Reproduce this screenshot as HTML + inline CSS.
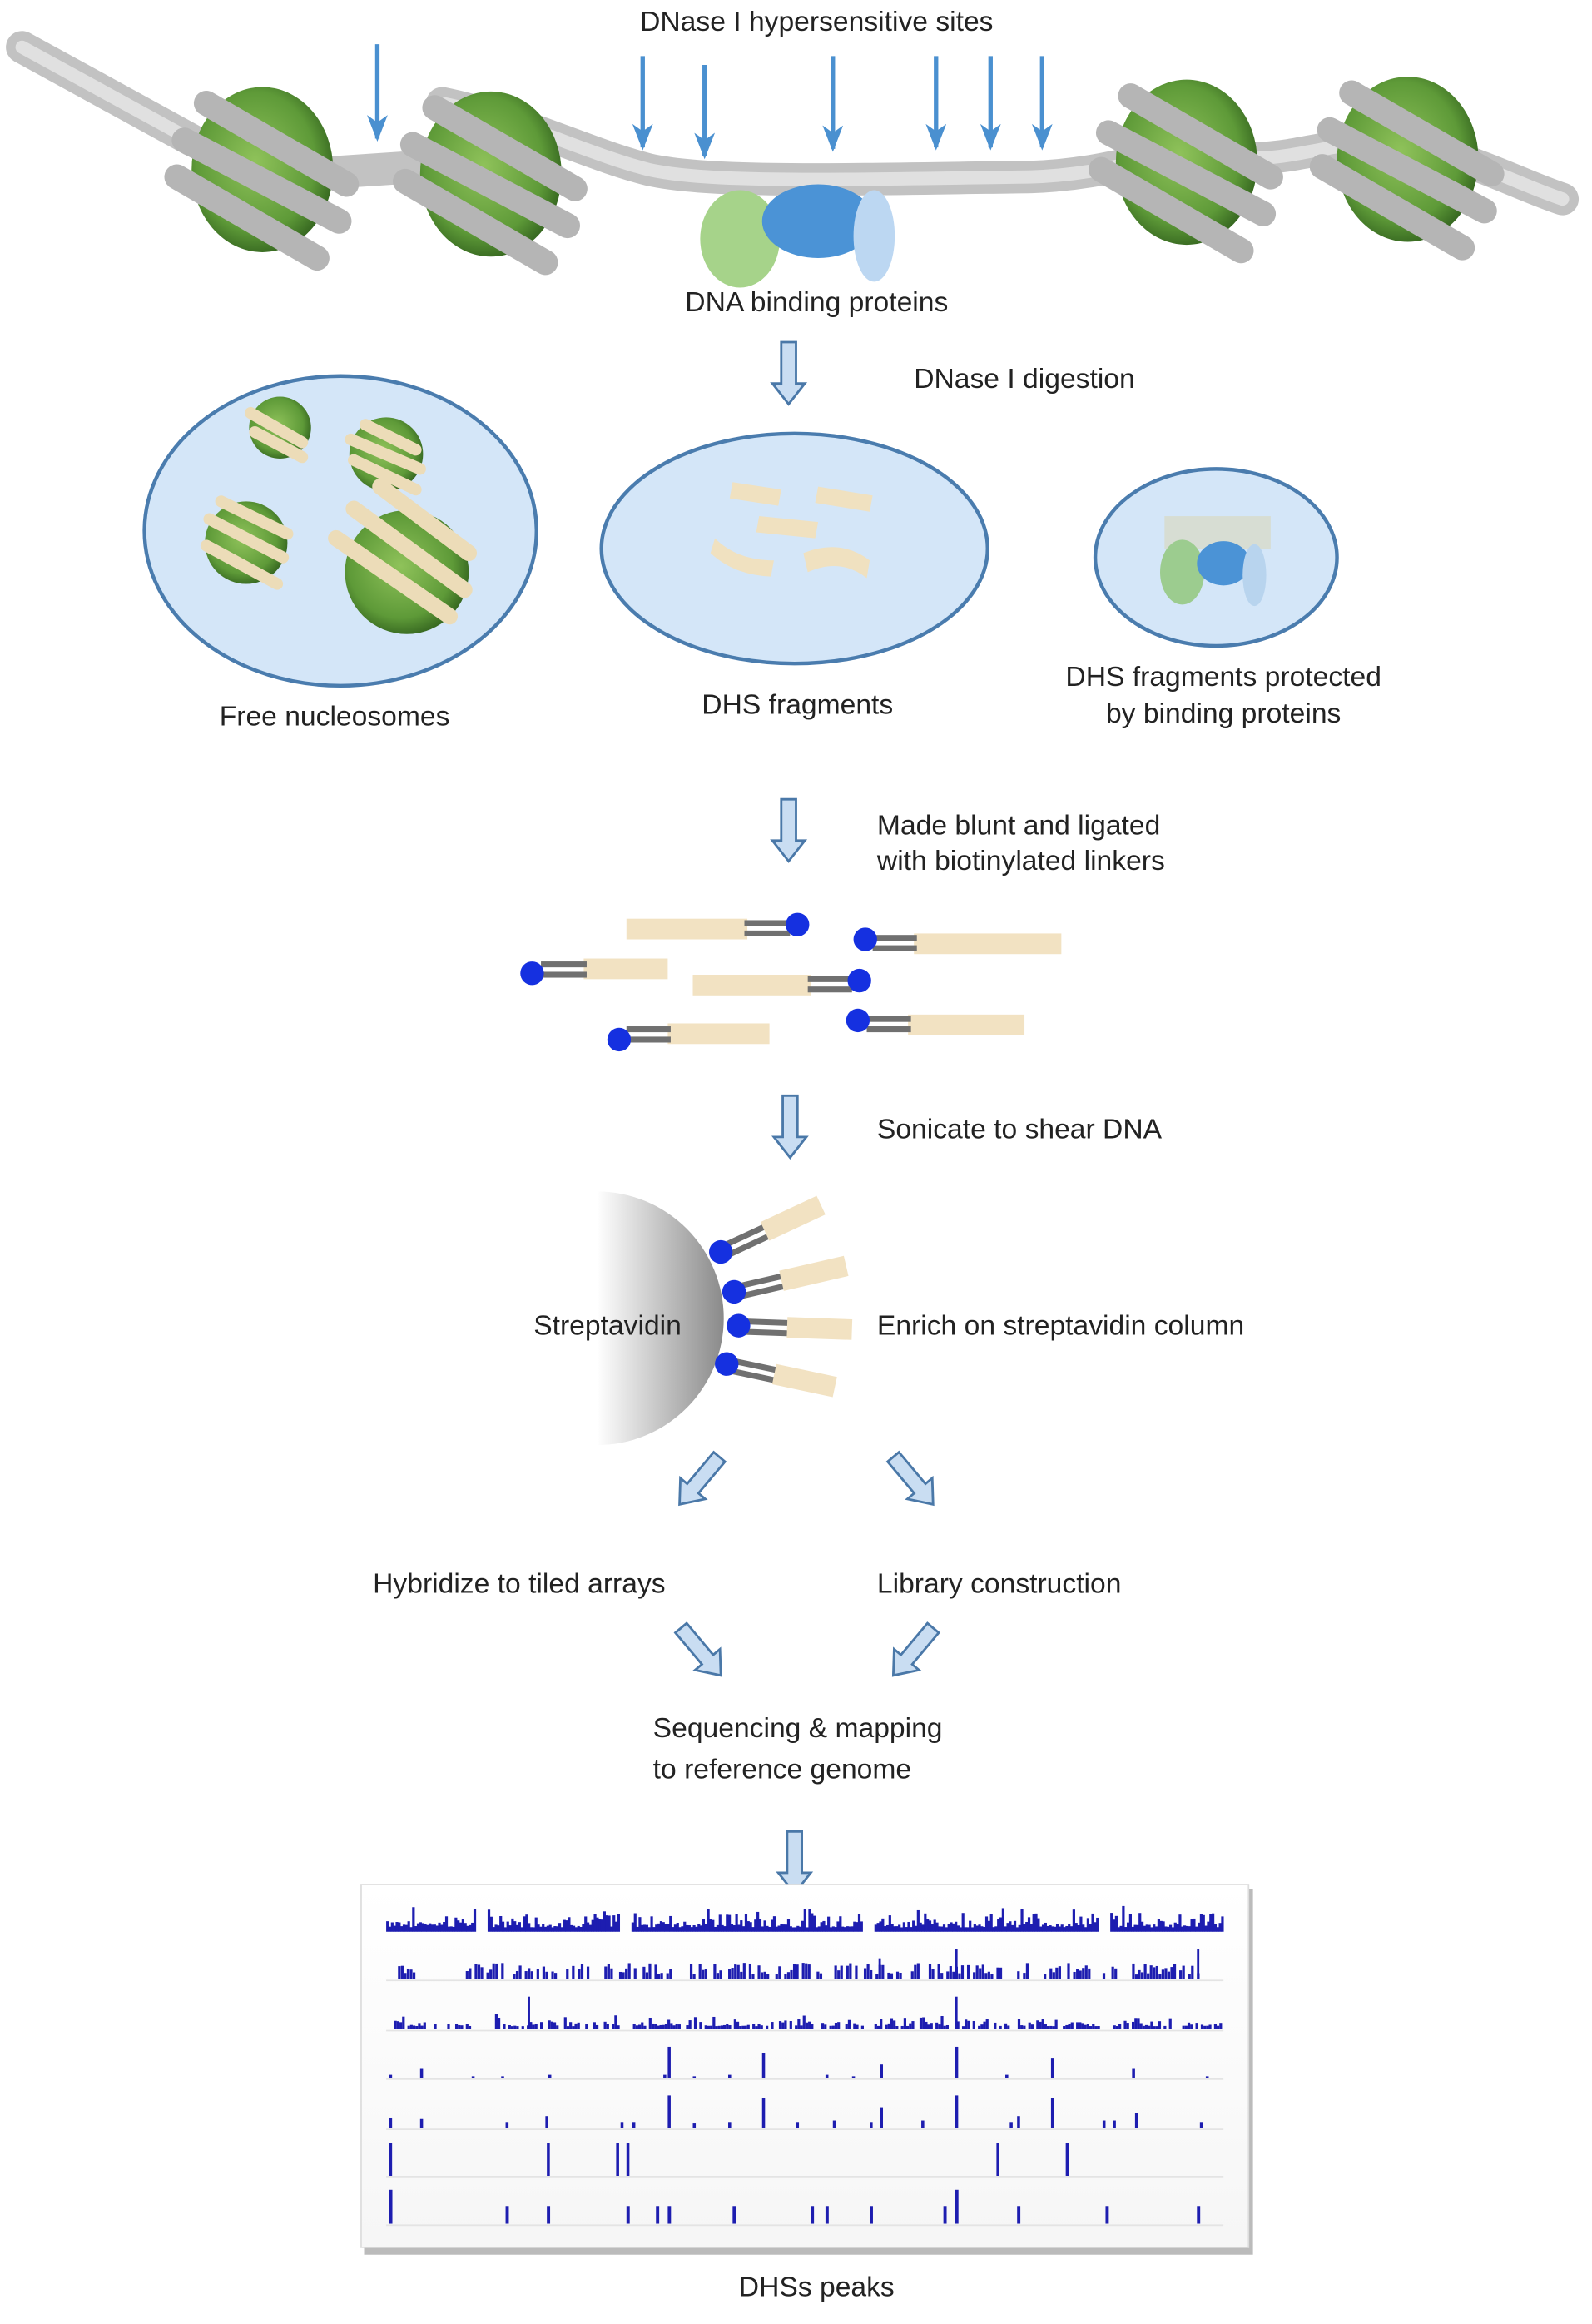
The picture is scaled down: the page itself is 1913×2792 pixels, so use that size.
<!DOCTYPE html>
<html><head><meta charset="utf-8"><style>
html,body{margin:0;padding:0;background:#fff;}
svg{display:block}
text{font-family:"Liberation Sans",sans-serif;font-size:19px;fill:#222;}
</style></head><body>
<svg id="s" width="1913" height="2792" viewBox="0 0 1080 1576" preserveAspectRatio="none" xmlns="http://www.w3.org/2000/svg">
<defs>
<radialGradient id="gn" cx="0.45" cy="0.45" r="0.6"><stop offset="0" stop-color="#8fc25a"/><stop offset="0.7" stop-color="#5e9a38"/><stop offset="1" stop-color="#2f5e1c"/></radialGradient>
<linearGradient id="st" x1="0" y1="0" x2="1" y2="0"><stop offset="0" stop-color="#fff"/><stop offset="1" stop-color="#8a8a8a"/></linearGradient>
<linearGradient id="bx" x1="0" y1="0" x2="0" y2="1"><stop offset="0" stop-color="#fff"/><stop offset="1" stop-color="#f6f6f6"/></linearGradient>
<marker id="ah" viewBox="0 0 18 14" refX="16" refY="7" markerWidth="18" markerHeight="14" orient="auto" markerUnits="userSpaceOnUse"><path d="M0,0 L18,7 L0,14 L5,7 Z" fill="#4a90d0"/></marker>
<g id="harrow"><path d="M-5,0 H5 V28 H11 L0,42 L-11,28 H-5 Z" fill="#c9ddf2" stroke="#4a78a8" stroke-width="1.6"/></g>
</defs>

<text x="554" y="21" text-anchor="middle">DNase I hypersensitive sites</text>

<g fill="none" stroke-linecap="round">
<path d="M15,32 L130,95 M180,120 L330,110 M300,70 C350,80 400,105 440,115 C480,124 560,122 700,120 C760,118 790,100 820,105 C880,115 900,90 960,100 C1000,108 1030,125 1060,135" stroke="#c2c2c2" stroke-width="22"/>
<path d="M15,32 L130,95 M300,70 C350,80 400,105 440,115 C480,124 560,122 700,120 C760,118 790,100 820,105 C880,115 900,90 960,100 C1000,108 1030,125 1060,135" stroke="#e0e0e0" stroke-width="9"/>
</g>
<g id="nuc1">
<ellipse cx="178" cy="115" rx="48" ry="56" fill="url(#gn)"/>
<g stroke="#b5b5b5" stroke-width="17" stroke-linecap="round" fill="none">
<path d="M125,95 L230,150"/><path d="M120,120 L215,175"/><path d="M140,70 L235,125"/>
</g>
</g>
<use href="#nuc1" transform="translate(155,3)"/>
<use href="#nuc1" transform="translate(627,-5)"/>
<use href="#nuc1" transform="translate(777,-7)"/>

<g stroke="#4a90d0" stroke-width="3" marker-end="url(#ah)">
<line x1="256" y1="30" x2="256" y2="94"/><line x1="436" y1="38" x2="436" y2="100"/><line x1="478" y1="44" x2="478" y2="106"/>
<line x1="565" y1="38" x2="565" y2="101"/><line x1="635" y1="38" x2="635" y2="100"/><line x1="672" y1="38" x2="672" y2="100"/><line x1="707" y1="38" x2="707" y2="100"/>
</g>
<ellipse cx="502" cy="162" rx="27" ry="33" fill="#a6d38a"/>
<ellipse cx="555" cy="150" rx="38" ry="25" fill="#4b93d6"/>
<ellipse cx="593" cy="160" rx="14" ry="31" fill="#bcd7f2"/>
<text x="554" y="211" text-anchor="middle">DNA binding proteins</text>

<use href="#harrow" x="535" y="232"/>
<text x="620" y="263">DNase I digestion</text>

<ellipse cx="231" cy="360" rx="133" ry="105" fill="#d4e6f8" stroke="#4a7cae" stroke-width="2.5"/>
<ellipse cx="539" cy="372" rx="131" ry="78" fill="#d4e6f8" stroke="#4a7cae" stroke-width="2.5"/>
<ellipse cx="825" cy="378" rx="82" ry="60" fill="#d4e6f8" stroke="#4a7cae" stroke-width="2.5"/>
<g stroke="#ecdcb8" stroke-width="8" stroke-linecap="round">
<circle cx="190" cy="290" r="21" fill="url(#gn)" stroke="none"/><path d="M170,280 L205,300 M173,293 L205,310"/>
<circle cx="262" cy="308" r="25" fill="url(#gn)" stroke="none"/><path d="M238,298 L285,318 M240,312 L282,332 M248,288 L282,305"/>
<circle cx="167" cy="368" r="28" fill="url(#gn)" stroke="none"/><path d="M142,352 L192,378 M140,370 L188,396 M150,340 L195,362"/>
<circle cx="276" cy="388" r="42" fill="url(#gn)" stroke="none"/><path d="M228,365 L305,418 M240,345 L315,400 M258,330 L318,375" stroke-width="11"/>
</g>
<g fill="#f0e1c0">
<path d="M497,327 L530,332 L528,343 L495,338Z"/><path d="M555,330 L592,336 L590,347 L553,341Z"/>
<path d="M515,350 L555,354 L553,365 L513,361Z"/><path d="M485,365 Q500,380 525,380 L523,391 Q498,390 482,375Z"/>
<path d="M545,375 Q570,365 590,380 L588,392 Q570,378 548,388Z"/>
</g>
<rect x="790" y="350" width="72" height="22" fill="#d7ddd3"/>
<ellipse cx="802" cy="388" rx="15" ry="22" fill="#9ccc8f"/>
<ellipse cx="830" cy="382" rx="18" ry="15" fill="#4b93d6"/>
<ellipse cx="851" cy="390" rx="8" ry="21" fill="#b8d4ee"/>
<text x="227" y="492" text-anchor="middle">Free nucleosomes</text>
<text x="541" y="484" text-anchor="middle">DHS fragments</text>
<text x="830" y="465" text-anchor="middle">DHS fragments protected</text>
<text x="830" y="490" text-anchor="middle">by binding proteins</text>

<use href="#harrow" x="535" y="542"/>
<text x="595" y="566">Made blunt and ligated</text>
<text x="595" y="590">with biotinylated linkers</text>

<g>
<rect x="425" y="623" width="82" height="14" fill="#f2e2c2"/>
<g fill="#707070"><rect x="505" y="624" width="31" height="4"/><rect x="505" y="631" width="31" height="4"/></g>
<circle cx="541" cy="627" r="8" fill="#1530e0"/>
<rect x="620" y="633" width="100" height="14" fill="#f2e2c2"/>
<g fill="#707070"><rect x="592" y="634" width="30" height="4"/><rect x="592" y="641" width="30" height="4"/></g>
<circle cx="587" cy="637" r="8" fill="#1530e0"/>
<rect x="396" y="650" width="57" height="14" fill="#f2e2c2"/>
<g fill="#707070"><rect x="367" y="652" width="31" height="4"/><rect x="367" y="659" width="31" height="4"/></g>
<circle cx="361" cy="660" r="8" fill="#1530e0"/>
<rect x="470" y="661" width="80" height="14" fill="#f2e2c2"/>
<g fill="#707070"><rect x="548" y="662" width="30" height="4"/><rect x="548" y="669" width="30" height="4"/></g>
<circle cx="583" cy="665" r="8" fill="#1530e0"/>
<rect x="616" y="688" width="79" height="14" fill="#f2e2c2"/>
<g fill="#707070"><rect x="588" y="689" width="30" height="4"/><rect x="588" y="696" width="30" height="4"/></g>
<circle cx="582" cy="692" r="8" fill="#1530e0"/>
<rect x="453" y="694" width="69" height="14" fill="#f2e2c2"/>
<g fill="#707070"><rect x="425" y="696" width="30" height="4"/><rect x="425" y="703" width="30" height="4"/></g>
<circle cx="420" cy="705" r="8" fill="#1530e0"/>
</g>

<use href="#harrow" x="536" y="743"/>
<text x="595" y="772">Sonicate to shear DNA</text>

<path d="M405,808 A86,86 0 0 1 405,980 Z" fill="url(#st)"/>
<text x="362" y="905">Streptavidin</text>
<g>
<g transform="translate(489,849) rotate(-25)"><g fill="#707070"><rect x="5" y="-5" width="30" height="4"/><rect x="5" y="2" width="30" height="4"/></g><rect x="33" y="-7" width="42" height="14" fill="#f2e2c2"/><circle r="8" fill="#1530e0"/></g>
<g transform="translate(498,876) rotate(-13)"><g fill="#707070"><rect x="5" y="-5" width="30" height="4"/><rect x="5" y="2" width="30" height="4"/></g><rect x="33" y="-7" width="45" height="14" fill="#f2e2c2"/><circle r="8" fill="#1530e0"/></g>
<g transform="translate(501,899) rotate(2)"><g fill="#707070"><rect x="5" y="-5" width="30" height="4"/><rect x="5" y="2" width="30" height="4"/></g><rect x="33" y="-7" width="44" height="14" fill="#f2e2c2"/><circle r="8" fill="#1530e0"/></g>
<g transform="translate(493,925) rotate(12)"><g fill="#707070"><rect x="5" y="-5" width="30" height="4"/><rect x="5" y="2" width="30" height="4"/></g><rect x="33" y="-7" width="42" height="14" fill="#f2e2c2"/><circle r="8" fill="#1530e0"/></g>
</g>
<text x="595" y="905">Enrich on streptavidin column</text>

<use href="#harrow" transform="translate(488,988) rotate(40)"/>
<use href="#harrow" transform="translate(606,988) rotate(-40)"/>
<text x="253" y="1080">Hybridize to tiled arrays</text>
<text x="595" y="1080">Library construction</text>
<use href="#harrow" transform="translate(462,1104) rotate(-40)"/>
<use href="#harrow" transform="translate(633,1104) rotate(40)"/>
<text x="443" y="1178">Sequencing &amp; mapping</text>
<text x="443" y="1206">to reference genome</text>

<use href="#harrow" x="539" y="1242"/>
<rect x="247" y="1281" width="603" height="248" fill="#bbb"/>
<rect x="245" y="1278" width="602" height="246" fill="url(#bx)" stroke="#ddd"/>
<g id="tracks" fill="#1d1db0"></g>
<g stroke="#e4e4e4" stroke-width="1">
<line x1="262" y1="1343" x2="830" y2="1343"/><line x1="262" y1="1377" x2="830" y2="1377"/><line x1="262" y1="1410" x2="830" y2="1410"/>
<line x1="262" y1="1444" x2="830" y2="1444"/><line x1="262" y1="1476" x2="830" y2="1476"/><line x1="262" y1="1509" x2="830" y2="1509"/>
</g>
<text x="554" y="1557" text-anchor="middle">DHSs peaks</text>
</svg>
<script>
(function(){
var g=document.getElementById('tracks'),ns='http://www.w3.org/2000/svg';
var seed=7;function r(){seed=(seed*9301+49297)%233280;return seed/233280;}
function bar(x,y,h,w){var e=document.createElementNS(ns,'rect');e.setAttribute('x',x);e.setAttribute('y',y-h);e.setAttribute('width',w||1.6);e.setAttribute('height',h);g.appendChild(e);}
var gaps=[[322,330],[420,428],[585,593],[745,752]];
function ing(x){for(var i=0;i<gaps.length;i++)if(x>gaps[i][0]&&x<gaps[i][1])return true;return false;}
for(var x=262;x<830;x+=1.6){if(ing(x))continue;bar(x,1310,3+r()*r()*15,1.8);}
var g2=[[280,316],[400,410],[455,468],[560,565],[625,630],[685,690],[718,723],[760,768]];
for(var x=262;x<814;x+=2.0){var sk=false;for(var i=0;i<g2.length;i++)if(x>g2[i][0]&&x<g2[i][1])sk=true;if(sk||r()<0.3)continue;bar(x,1342,3+r()*8,1.8);}
bar(596,1342,14);bar(648,1342,20);bar(812,1342,20);
for(var x=262;x<830;x+=1.8){if(ing(x)||r()<0.3)continue;bar(x,1376,2+r()*r()*9,1.8);}
bar(358,1376,22);bar(648,1376,22);
var p4=[[264,3],[285,7],[320,2],[340,2],[372,3],[450,3],[453,22],[470,2],[494,3],[517,18],[560,3],[578,2],[597,10],[648,22],[682,3],[713,14],[768,7],[818,2]];
p4.forEach(function(p){bar(p[0],1410,p[1],2);});
var p5=[[264,7],[285,6],[343,4],[370,8],[421,4],[429,4],[453,22],[470,3],[494,4],[517,20],[540,4],[565,5],[590,4],[597,14],[625,5],[648,22],[685,4],[690,8],[713,20],[748,5],[755,5],[770,10],[814,4]];
p5.forEach(function(p){bar(p[0],1443,p[1],2);});
[264,371,418,425,676,723].forEach(function(x){bar(x,1476,23,2);});
[[264,23],[343,12],[371,12],[425,12],[445,12],[453,12],[497,12],[550,12],[560,12],[590,12],[640,12],[648,23],[690,12],[750,12],[812,12]].forEach(function(p){bar(p[0],1508,p[1],2.2);});
})();
</script>
</body></html>
